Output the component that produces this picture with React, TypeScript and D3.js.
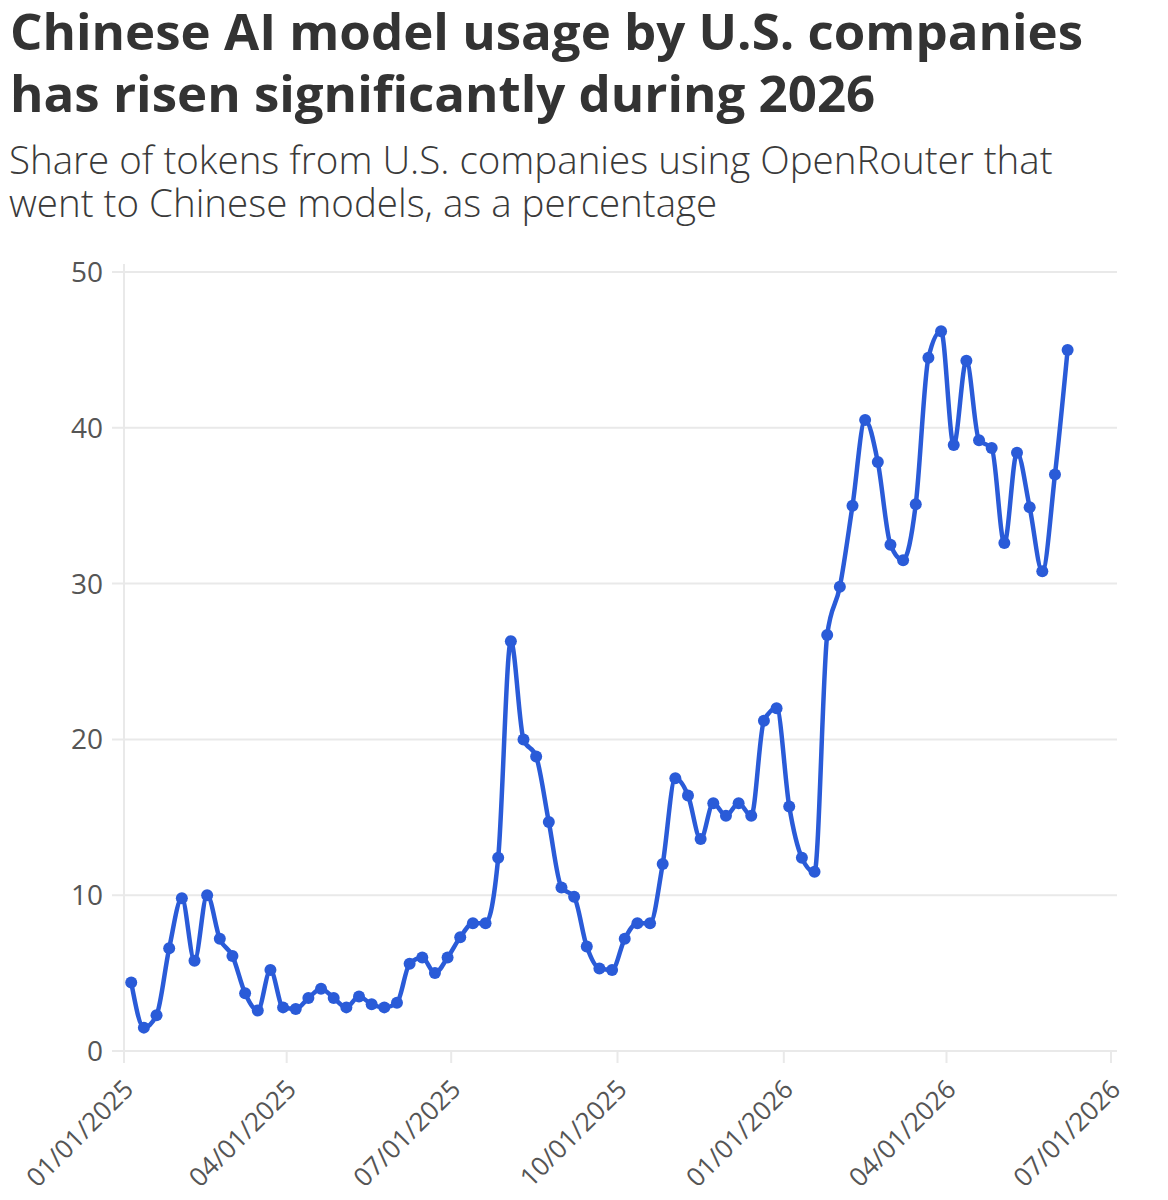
import * as d3 from 'd3';

// weekly observations, share of U.S. OpenRouter tokens going to Chinese models (%)
const weeks: string[] = [
  '2025-01-05', '2025-01-12', '2025-01-19', '2025-01-26',
  '2025-02-02', '2025-02-09', '2025-02-16', '2025-02-23',
  '2025-03-02', '2025-03-09', '2025-03-16', '2025-03-23', '2025-03-30',
  '2025-04-06', '2025-04-13', '2025-04-20', '2025-04-27',
  '2025-05-04', '2025-05-11', '2025-05-18', '2025-05-25',
  '2025-06-01', '2025-06-08', '2025-06-15', '2025-06-22', '2025-06-29',
  '2025-07-06', '2025-07-13', '2025-07-20', '2025-07-27',
  '2025-08-03', '2025-08-10', '2025-08-17', '2025-08-24', '2025-08-31',
  '2025-09-07', '2025-09-14', '2025-09-21', '2025-09-28',
  '2025-10-05', '2025-10-12', '2025-10-19', '2025-10-26',
  '2025-11-02', '2025-11-09', '2025-11-16', '2025-11-23', '2025-11-30',
  '2025-12-07', '2025-12-14', '2025-12-21', '2025-12-28',
  '2026-01-04', '2026-01-11', '2026-01-18', '2026-01-25',
  '2026-02-01', '2026-02-08', '2026-02-15', '2026-02-22',
  '2026-03-01', '2026-03-08', '2026-03-15', '2026-03-22', '2026-03-29',
  '2026-04-05', '2026-04-12', '2026-04-19', '2026-04-26',
  '2026-05-03', '2026-05-10', '2026-05-17', '2026-05-24', '2026-05-31',
  '2026-06-07',
];

const share: number[] = [
  4.4, 1.5, 2.3, 6.6,
  9.8, 5.8, 10.0, 7.2,
  6.1, 3.7, 2.6, 5.2, 2.8,
  2.7, 3.4, 4.0, 3.4,
  2.8, 3.5, 3.0, 2.8,
  3.1, 5.6, 6.0, 5.0, 6.0,
  7.3, 8.2, 8.2, 12.4,
  26.3, 20.0, 18.9, 14.7, 10.5,
  9.9, 6.7, 5.3, 5.2,
  7.2, 8.2, 8.2, 12.0,
  17.5, 16.4, 13.6, 15.9, 15.1,
  15.9, 15.1, 21.2, 22.0,
  15.7, 12.4, 11.5, 26.7,
  29.8, 35.0, 40.5, 37.8,
  32.5, 31.5, 35.1, 44.5, 46.2,
  38.9, 44.3, 39.2, 38.7,
  32.6, 38.4, 34.9, 30.8, 37.0,
  45.0,
];

const xTicks: string[] = ['2025-01-01', '2025-04-01', '2025-07-01', '2025-10-01', '2026-01-01', '2026-04-01', '2026-07-01'];
const yTicks: number[] = [0, 10, 20, 30, 40, 50];

const titleLines = ['Chinese AI model usage by U.S. companies', 'has risen significantly during 2026'];
const subtitleLines = ['Share of tokens from U.S. companies using OpenRouter that', 'went to Chinese models, as a percentage'];

const W = 1168;
const H = 1200;
const LINE = '#2a5bd8';
const GRID = '#e9e9e9';
const FONT = '"Open Sans", sans-serif';

const parse = d3.timeParse('%Y-%m-%d');
const fmt = d3.timeFormat('%m/%d/%Y');

type Pt = { date: Date; value: number };

const App = () => {
  const data: Pt[] = weeks.map((w, i) => ({ date: parse(w) as Date, value: share[i] }));

  const x = d3.scaleTime()
    .domain([parse(xTicks[0]) as Date, parse(xTicks[xTicks.length - 1]) as Date])
    .range([124, 1111]);
  const y = d3.scaleLinear().domain([0, 50]).range([1051, 272]);

  const line = d3.line<Pt>()
    .x(d => x(d.date))
    .y(d => y(d.value))
    .curve(d3.curveMonotoneX);

  return (
    <svg width={W} height={H} style={{ position: 'absolute', left: 0, top: 0, background: '#fff' }}>
      {titleLines.map((t, i) => (
        <text key={t} x={10} y={50 + i * 62} fontFamily={FONT} fontWeight={700}
          fontSize={51} fill="#333">{t}</text>
      ))}
      {subtitleLines.map((t, i) => (
        <text key={t} x={9} y={174 + i * 43} fontFamily={FONT} fontWeight={300}
          fontSize={38.5} fill="#3a3a3a">{t}</text>
      ))}

      {/* gridlines + y labels */}
      {yTicks.map(v => (
        <g key={v}>
          <line x1={112} x2={1117} y1={y(v)} y2={y(v)} stroke={GRID} strokeWidth={2} />
          <text x={103} y={y(v)} dy="0.36em" textAnchor="end" fontFamily={FONT}
            fontSize={28} fill="#555">{v}</text>
        </g>
      ))}
      <line x1={124} x2={124} y1={264} y2={1058} stroke={GRID} strokeWidth={2} />

      {/* x ticks, rotated labels */}
      {xTicks.map(t => {
        const d = parse(t) as Date;
        const px = x(d);
        return (
          <g key={t}>
            <line x1={px} x2={px} y1={1051} y2={1063} stroke={GRID} strokeWidth={2} />
            <text transform={`translate(${px + 11},${1091}) rotate(-45)`} textAnchor="end"
              fontFamily={FONT} fontSize={26} fill="#555">{fmt(d)}</text>
          </g>
        );
      })}

      <path d={line(data) ?? ''} fill="none" stroke={LINE} strokeWidth={4.5} strokeLinejoin="round" />
      {data.map(d => (
        <circle key={d.date.getTime()} cx={x(d.date)} cy={y(d.value)} r={6} fill={LINE} />
      ))}
    </svg>
  );
};

export default App;
